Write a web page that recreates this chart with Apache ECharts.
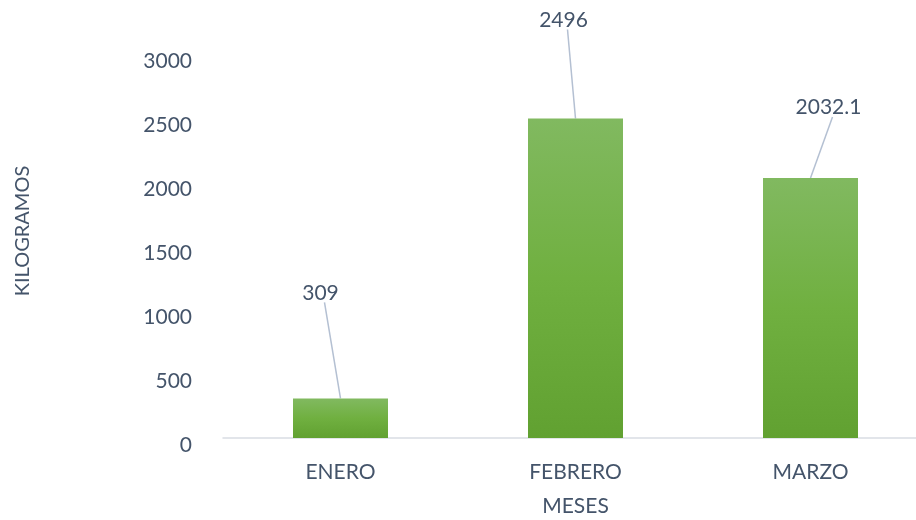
<!DOCTYPE html>
<html>
<head>
<meta charset="utf-8">
<script src="https://cdn.jsdelivr.net/npm/echarts@6/dist/echarts.min.js"></script>
<style>html,body{margin:0;padding:0;background:#fff}#c{width:916px;height:520px}</style>
</head>
<body>
<div id="c"></div>
<script>
const categories = ['ENERO', 'FEBRERO', 'MARZO'];
const values = [309, 2496, 2032.1];
const yTicks = [0, 500, 1000, 1500, 2000, 2500, 3000];

// label callout offsets (layout only)
const labelShift = [[-20, -95], [-12, -88], [18, -60]];

const txt = '#44546a';
const font = 'Lato';
const chart = echarts.init(document.getElementById('c'));
const option = {
  animation: false,
  backgroundColor: '#ffffff',
  textStyle: { fontFamily: font },
  grid: { left: 223, top: 54, height: 384, width: 705, outerBoundsMode: 'none', containLabel: false },
  xAxis: {
    type: 'category',
    data: categories,
    name: 'MESES',
    nameLocation: 'middle',
    nameGap: 58,
    nameTextStyle: { color: txt, fontSize: 21, fontFamily: font },
    axisLine: { lineStyle: { color: '#d9dde3', width: 1.5 } },
    axisTick: { show: false },
    axisLabel: { color: txt, fontSize: 21, fontFamily: font, margin: 24 }
  },
  yAxis: {
    type: 'value',
    min: yTicks[0],
    max: yTicks[yTicks.length - 1],
    interval: yTicks[1] - yTicks[0],
    name: 'KILOGRAMOS',
    nameLocation: 'middle',
    nameGap: 190,
    nameTextStyle: { color: txt, fontSize: 20, fontFamily: font, padding: [0, 0, 0, 30] },
    axisLine: { show: false },
    axisTick: { show: false },
    splitLine: { show: false },
    axisLabel: {
      color: txt, fontSize: 21, fontFamily: font, margin: 31,
      verticalAlign: 'top', lineHeight: 14,
      formatter: function (v) { return String(v); }
    }
  },
  series: [{
    type: 'bar',
    data: values,
    barWidth: 95,
    itemStyle: {
      color: new echarts.graphic.LinearGradient(0, 0, 0, 1, [
        { offset: 0, color: '#81b960' },
        { offset: 0.5, color: '#70b040' },
        { offset: 1, color: '#61a131' }
      ])
    },
    label: {
      show: true,
      position: 'top',
      distance: 0,
      color: txt,
      fontSize: 21,
      fontFamily: font
    },
    labelLayout: function (p) {
      const s = labelShift[p.dataIndex];
      return { dx: s[0], dy: s[1] };
    }
  }]
};
chart.setOption(option);

// leader lines from label to bar top
const lines = values.map(function (v, i) {
  const top = chart.convertToPixel({ xAxisIndex: 0, yAxisIndex: 0 }, [categories[i], v]);
  const s = labelShift[i];
  const lx = top[0] + s[0] + 4;
  const ly = top[1] + s[1] - 1;
  return {
    type: 'line',
    shape: { x1: lx, y1: ly, x2: top[0], y2: top[1] },
    style: { stroke: '#b4c0d2', lineWidth: 1.5 },
    z: 1
  };
});
chart.setOption({ graphic: lines });
</script>
</body>
</html>
